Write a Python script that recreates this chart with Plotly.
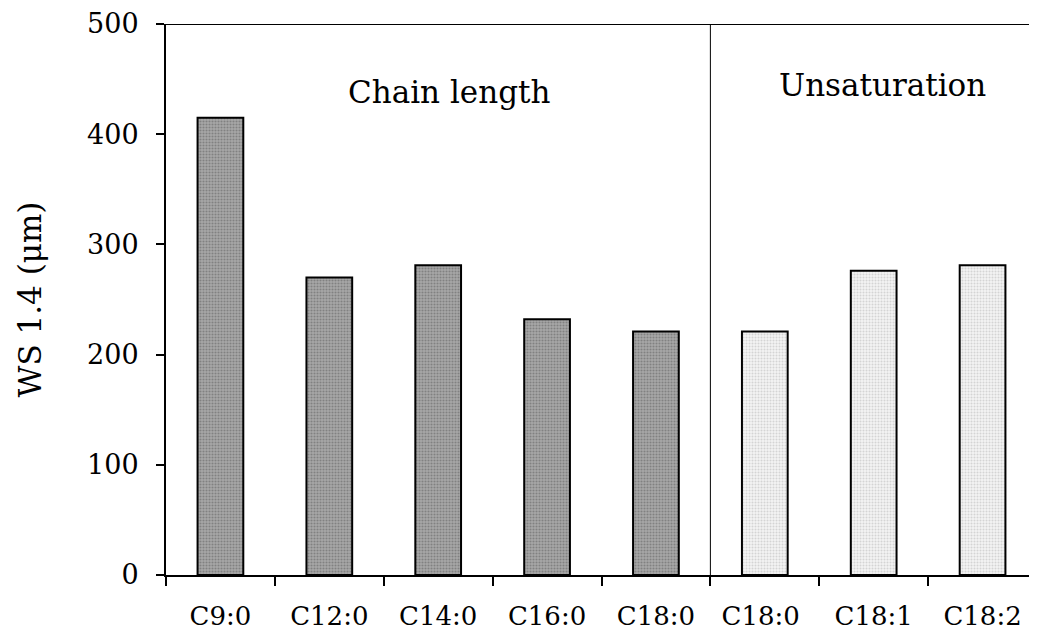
import plotly.graph_objects as go

chain_cats = ["C9:0", "C12:0", "C14:0", "C16:0", "C18:0"]
chain_vals = [415, 270, 281, 232, 221]
unsat_cats = ["C18:0 ", "C18:1", "C18:2"]
unsat_vals = [221, 276, 281]
y_ticks = [0, 100, 200, 300, 400, 500]

FONT = "DejaVu Serif"

fig = go.Figure()
fig.add_trace(go.Bar(
    x=chain_cats, y=chain_vals, width=0.42,
    marker=dict(color="#8e8e8e", line=dict(color="black", width=2),
                pattern=dict(shape=".", fgcolor="#5a5a5a", bgcolor="#a8a8a8", size=3, solidity=0.4)),
    showlegend=False,
))
fig.add_trace(go.Bar(
    x=unsat_cats, y=unsat_vals, width=0.42,
    marker=dict(color="#e6e6e6", line=dict(color="black", width=2),
                pattern=dict(shape=".", fgcolor="#b4b4b4", bgcolor="#f4f4f4", size=3, solidity=0.4)),
    showlegend=False,
))

div_x = len(chain_cats) - 0.5
fig.add_shape(type="line", xref="x", yref="y", x0=div_x, x1=div_x, y0=0, y1=y_ticks[-1],
              line=dict(color="black", width=1))
fig.add_shape(type="line", xref="paper", yref="y", x0=0, x1=1, y0=y_ticks[-1], y1=y_ticks[-1],
              line=dict(color="black", width=2))

fig.add_annotation(x=2.1, y=438, xref="x", yref="y", text="Chain length", showarrow=False,
                   font=dict(family=FONT, size=31, color="black"))
fig.add_annotation(x=6.08, y=445, xref="x", yref="y", text="Unsaturation", showarrow=False,
                   font=dict(family=FONT, size=31, color="black"))

fig.update_layout(
    width=1029, height=625,
    margin=dict(l=158, r=0, t=14, b=58),
    paper_bgcolor="white", plot_bgcolor="white",
    bargap=0.58,
    font=dict(family=FONT, color="black"),
)
fig.update_xaxes(
    type="category",
    categoryorder="array", categoryarray=chain_cats + unsat_cats,
    range=[-0.5, len(chain_cats) + len(unsat_cats) - 0.5],
    showline=True, linecolor="black", linewidth=2,
    ticks="outside", ticklen=9, tickwidth=2, tickcolor="black",
    tickson="boundaries",
    ticklabelstandoff=17,
    ticklabeloverflow="allow",
    tickfont=dict(family=FONT, size=26, color="black"),
    showgrid=False, zeroline=False,
)
fig.update_yaxes(
    range=[0, 500], tickvals=y_ticks,
    showline=True, linecolor="black", linewidth=2,
    ticks="outside", ticklen=8, tickwidth=2, tickcolor="black",
    ticklabelstandoff=12,
    ticklabeloverflow="allow",
    tickfont=dict(family=FONT, size=27, color="black"),
    title=dict(text="WS 1.4 (μm)", font=dict(family=FONT, size=31, color="black"), standoff=36),
    showgrid=False, zeroline=False,
)

fig.write_html("out.html")
